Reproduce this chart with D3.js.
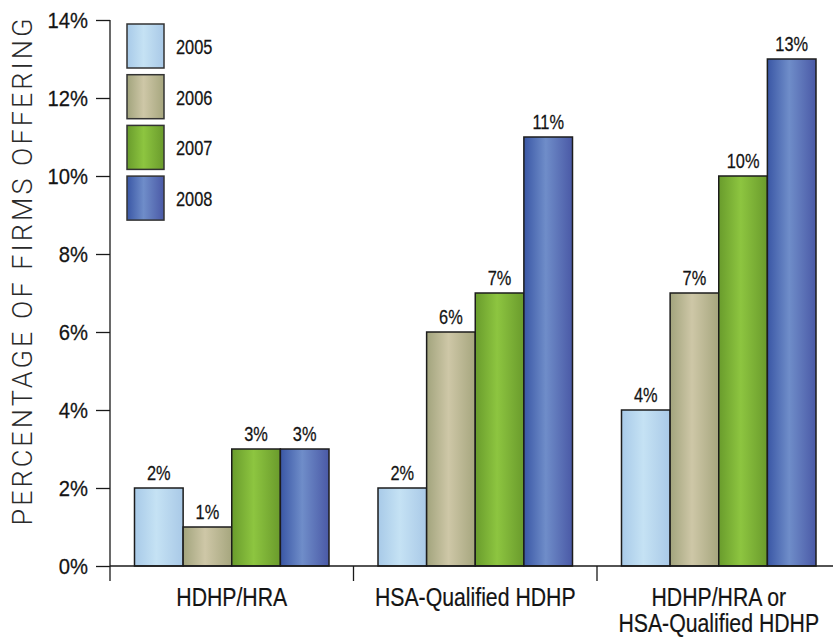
<!DOCTYPE html>
<html>
<head>
<meta charset="utf-8">
<script src="https://cdn.jsdelivr.net/npm/d3@7"></script>
<style>
  html, body { margin: 0; padding: 0; background: #fff; }
  svg { display: block; }
  .narrow { font-family: "Liberation Sans", Arial, sans-serif; }
</style>
</head>
<body>
<svg id="chart" width="833" height="639"></svg>
<script>
// Plan types and the years compared
const categoryLines = [["HDHP/HRA"], ["HSA-Qualified HDHP"], ["HDHP/HRA or", "HSA-Qualified HDHP"]];
const years = ["2005", "2006", "2007", "2008"];

// Percentage of firms offering each plan, one array per year
const values2005 = [2, 2, 4];
const values2006 = [1, 6, 7];
const values2007 = [3, 7, 10];
const values2008 = [3, 11, 13];
const yearValues = [values2005, values2006, values2007, values2008];

const yTicks = [0, 2, 4, 6, 8, 10, 12, 14];
const yTitle = "PERCENTAGE OF FIRMS OFFERING";

// Gradient stops per year: edge, highlight, edge
const palette = [
  ["#a8cae8", "#c5e2f4", "#a9c9e7"],
  ["#a2a47d", "#cec7a7", "#a6a67e"],
  ["#699c2c", "#8dc540", "#6a9b2c"],
  ["#3a57a5", "#6f8dc9", "#4a59a6"]
];

// Condensed look: regular sans squeezed horizontally
const narrowAt = (x, yy, k) => `translate(${x},${yy}) scale(${k},1)`;

const svg = d3.select("#chart");
const defs = svg.append("defs");
palette.forEach((c, i) => {
  const g = defs.append("linearGradient").attr("id", "grad" + i)
    .attr("x1", "0%").attr("x2", "100%").attr("y1", "0%").attr("y2", "0%");
  g.append("stop").attr("offset", "0%").attr("stop-color", c[0]);
  g.append("stop").attr("offset", "45%").attr("stop-color", c[1]);
  g.append("stop").attr("offset", "100%").attr("stop-color", c[2]);
});

const axisX = 110, baseY = 566;
const bandW = 243.5;
const x0 = d3.scaleBand().domain(d3.range(categoryLines.length))
  .range([axisX, axisX + bandW * categoryLines.length]).padding(0);
const x1 = d3.scaleBand().domain(years).range([24.5, bandW - 24.5]).padding(0);
const y = d3.scaleLinear().domain([0, 14]).range([baseY, 20]);

// Bars
const groups = svg.append("g").selectAll("g")
  .data(categoryLines.map((_, ci) => ci))
  .join("g")
  .attr("transform", ci => `translate(${x0(ci)},0)`);

const cells = ci => years.map((yr, yi) => ({ yr, yi, v: yearValues[yi][ci] }));

groups.selectAll("rect")
  .data(cells)
  .join("rect")
  .attr("x", d => x1(d.yr))
  .attr("y", d => y(d.v))
  .attr("width", x1.bandwidth())
  .attr("height", d => y(0) - y(d.v))
  .attr("fill", d => `url(#grad${d.yi})`)
  .attr("stroke", "#1c1c1c")
  .attr("stroke-width", 1.5);

groups.selectAll("text.val")
  .data(cells)
  .join("text")
  .attr("class", "val narrow")
  .attr("transform", d => narrowAt(x1(d.yr) + x1.bandwidth() / 2, y(d.v) - 8, 0.84))
  .attr("text-anchor", "middle")
  .attr("font-size", 19.5)
  .attr("fill", "#141414")
  .attr("stroke", "#141414").attr("stroke-width", 0.25)
  .text(d => d.v + "%");

// Y axis
const yAxis = d3.axisLeft(y).tickValues(yTicks).tickSize(14).tickPadding(0)
  .tickFormat(d => d + "%");
const ya = svg.append("g").attr("transform", `translate(${axisX},0)`).call(yAxis);
ya.select(".domain").remove();
ya.selectAll(".tick line").attr("stroke", "#1a1a1a").attr("stroke-width", 1.3);
ya.selectAll(".tick text")
  .attr("class", "narrow")
  .attr("font-family", null)
  .attr("font-size", 22)
  .attr("fill", "#141414")
  .attr("stroke", "#141414").attr("stroke-width", 0.25)
  .attr("x", null)
  .attr("dy", "0.36em")
  .attr("transform", narrowAt(-22, 0, 0.92));
svg.append("line").attr("x1", axisX).attr("x2", axisX)
  .attr("y1", y(14)).attr("y2", baseY + 15)
  .attr("stroke", "#1a1a1a").attr("stroke-width", 1.3);

// X axis baseline and category separators
svg.append("line").attr("x1", axisX).attr("x2", 833)
  .attr("y1", baseY).attr("y2", baseY)
  .attr("stroke", "#1a1a1a").attr("stroke-width", 1.3);
svg.append("g").selectAll("line")
  .data(d3.range(1, categoryLines.length))
  .join("line")
  .attr("x1", ci => x0(ci)).attr("x2", ci => x0(ci))
  .attr("y1", baseY).attr("y2", baseY + 15)
  .attr("stroke", "#1a1a1a").attr("stroke-width", 1.3);

// Category labels, one text per line
const catLines = categoryLines.flatMap((lines, ci) => lines.map((t, li) => ({ t, ci, li })));
const groupMid = ci => x0(ci) + x1(years[0]) + (x1.bandwidth() * years.length) / 2;
svg.append("g").selectAll("text")
  .data(catLines)
  .join("text")
  .attr("class", "narrow")
  .attr("text-anchor", "middle")
  .attr("font-size", 25)
  .attr("fill", "#141414")
  .attr("stroke", "#141414").attr("stroke-width", 0.2)
  .attr("transform", d => narrowAt(groupMid(d.ci), 606 + d.li * 26, 0.85))
  .text(d => d.t);

// Y axis title
svg.append("text")
  .attr("transform", "translate(32,272) rotate(-90)")
  .attr("text-anchor", "middle")
  .attr("font-family", "Roboto, 'Liberation Sans', sans-serif")
  .attr("font-weight", 300)
  .attr("font-size", 27)
  .attr("fill", "#2a2a2a")
  .attr("textLength", 507)
  .attr("lengthAdjust", "spacing")
  .text(yTitle);

// Legend
const legend = svg.append("g").selectAll("g")
  .data(years)
  .join("g")
  .attr("transform", (d, i) => `translate(127,${24 + i * 50.7})`);
legend.append("rect")
  .attr("width", 37).attr("height", 44)
  .attr("fill", (d, i) => `url(#grad${i})`)
  .attr("stroke", "#333").attr("stroke-width", 1.5);
legend.append("text")
  .attr("class", "narrow")
  .attr("transform", narrowAt(49, 30, 0.84))
  .attr("font-size", 19.5)
  .attr("fill", "#141414")
  .attr("stroke", "#141414").attr("stroke-width", 0.25)
  .text(d => d);
</script>
</body>
</html>
